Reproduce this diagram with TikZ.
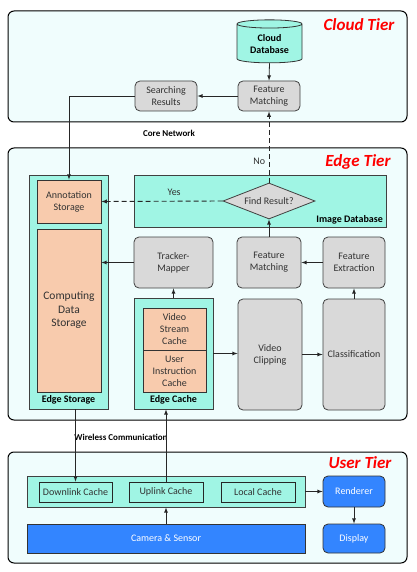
\documentclass[tikz,border=0pt]{standalone}
\usepackage{fontspec}
\setmainfont{Carlito}
\usepackage{tikz}
\usetikzlibrary{arrows,backgrounds,calc,shapes.geometric,positioning}
\definecolor{tierfill}{RGB}{240,253,253}
\definecolor{aqua}{RGB}{160,245,228}
\definecolor{peach}{RGB}{248,203,173}
\definecolor{boxgray}{RGB}{217,217,217}
\definecolor{userblue}{RGB}{51,133,255}
\definecolor{textgray}{RGB}{50,50,50}

\begin{document}
\begin{tikzpicture}[x=1pt,y=-1pt,font=\fontsize{10}{12}\selectfont,
tier/.style={draw,line width=1pt,rounded corners=6pt,fill=tierfill,inner sep=0pt},
tiername/.style={red,font=\fontsize{17}{20}\selectfont\bfseries\itshape},
proc/.style={draw=black!75,line width=0.8pt,rounded corners=5pt,fill=boxgray,text=textgray,align=center,inner sep=1pt},
store/.style={draw=black!75,line width=0.8pt,fill=aqua,inner sep=0pt},
cachebox/.style={draw=black!80,line width=0.8pt,fill=peach,text=textgray,align=center,inner sep=1pt},
userbox/.style={draw=black!80,line width=0.8pt,fill=userblue,text=white,align=center,inner sep=1pt},
small/.style={font=\fontsize{9}{11}\selectfont\bfseries},
arr/.style={-latex,line width=0.8pt,black!85},
dasharr/.style={-latex,line width=0.9pt,dash pattern=on 5pt off 3pt,black!85}]
\useasboundingbox (0,0) rectangle (416,572);

\node[tier,minimum width=399pt,minimum height=111pt] (cloud) at (207.5,66.5) {};
\node[tiername] at (359,25) {Cloud Tier};
\node[cylinder,shape border rotate=90,aspect=0.18,draw=black!80,line width=0.8pt,fill=aqua,minimum width=65pt,minimum height=43pt,align=center,font=\fontsize{10}{12}\selectfont\bfseries] (cdb) at (269.5,44.5) {Cloud\\Database};
\node[proc,minimum width=62pt,minimum height=30pt] (cfm) at (269,96) {Feature\\Matching};
\node[proc,minimum width=62pt,minimum height=30pt] (search) at (166,96) {Searching\\Results};
\node[small] (core) at (169,133) {Core Network};

\node[tier,minimum width=399pt,minimum height=272pt] (edge) at (207.5,284) {};
\node[tiername] at (358,162) {Edge Tier};
\node[store,minimum width=79pt,minimum height=234pt] (estore) at (68.5,292) {};
\node[cachebox,minimum width=64pt,minimum height=43pt] (annot) at (69,201.5) {Annotation\\Storage};
\node[cachebox,minimum width=64pt,minimum height=163pt,font=\fontsize{11.5}{13.5}\selectfont] (compute) at (69,310.5) {Computing\\Data\\Storage};
\node[font=\bfseries] at (68.5,400) {Edge Storage};
\node[store,minimum width=252pt,minimum height=52pt] (imgdb) at (260,201) {};
\node[font=\bfseries,anchor=south east] at (imgdb.south east) {Image Database};
\node[diamond,aspect=2.6,draw=black!75,line width=0.8pt,fill=boxgray,text=textgray,inner sep=0pt,minimum width=92pt,minimum height=36pt] (find) at (269,201) {Find Result?};
\node[proc,minimum width=79pt,minimum height=51pt] (tracker) at (173.5,262.5) {Tracker-\\Mapper};
\node[proc,minimum width=64pt,minimum height=51pt] (efm) at (269,262.5) {Feature\\Matching};
\node[proc,minimum width=62pt,minimum height=51pt] (extract) at (354,262.5) {Feature\\Extraction};
\node[store,minimum width=79pt,minimum height=111pt] (ecache) at (173.5,353.5) {};
\node[cachebox,minimum width=63pt,minimum height=42pt] (vsc) at (174.5,329) {Video\\Stream\\Cache};
\node[cachebox,minimum width=63pt,minimum height=42pt] (uic) at (174.5,371) {User\\Instruction\\Cache};
\node[font=\bfseries] at (173.5,400) {Edge Cache};
\node[proc,minimum width=64pt,minimum height=111pt] (clip) at (270,354.5) {Video\\Clipping};
\node[proc,minimum width=62pt,minimum height=111pt] (classif) at (354,354.5) {Classification};
\node[small] (wireless) at (121,437) {Wireless Communication};

\node[tier,minimum width=399pt,minimum height=111pt] (user) at (207.5,507.5) {};
\node[tiername] at (360,463) {User Tier};
\node[store,minimum width=278pt,minimum height=31pt] (band) at (166,491.5) {};
\node[store,draw=black!85,text=textgray,minimum width=73pt,minimum height=20pt] (down) at (75.5,492) {Downlink Cache};
\node[store,draw=black!85,text=textgray,minimum width=74pt,minimum height=20pt] (up) at (166,492) {Uplink Cache};
\node[store,draw=black!85,text=textgray,minimum width=74pt,minimum height=20pt] (local) at (258,492) {Local Cache};
\node[userbox,minimum width=278pt,minimum height=29pt] (camera) at (166,538.5) {Camera \& Sensor};
\node[userbox,rounded corners=5pt,minimum width=62pt,minimum height=31pt] (render) at (354,491.5) {Renderer};
\node[userbox,rounded corners=5pt,minimum width=62pt,minimum height=29pt] (display) at (354,538.5) {Display};

\draw[arr] (cdb.south) -- (cfm.north);
\draw[arr] (cfm.west) -- (search.east);
\draw[arr] (search.west) -| (annot.north);
\draw[dasharr] (find.north) -- node[pos=0.3,left,text=textgray] {No} (cfm.south);
\draw[dasharr] (find.west) -- node[pos=0.4,above=2pt,text=textgray] {Yes} (annot.east);
\draw[arr] (efm.north) -- (find.south);
\draw[arr] (extract.west) -- (efm.east);
\draw[arr] (tracker.west) -- (tracker.west -| compute.east);
\draw[arr] (ecache.north) -- (tracker.south);
\draw[arr] (classif.north) -- (extract.south);
\draw[arr] (ecache.east) -- (ecache.east -| clip.west);
\draw[arr] (clip.east) -- (clip.east -| classif.west);
\draw[arr] (estore.south -| down.north) -- (down.north);
\draw[arr] (up.north) -- (up.north |- ecache.south);
\draw[arr] (camera.north) -- (band.south);
\draw[arr] (band.east) -- (render.west);
\draw[arr] (render.south) -- (display.north);
\end{tikzpicture}
\end{document}
